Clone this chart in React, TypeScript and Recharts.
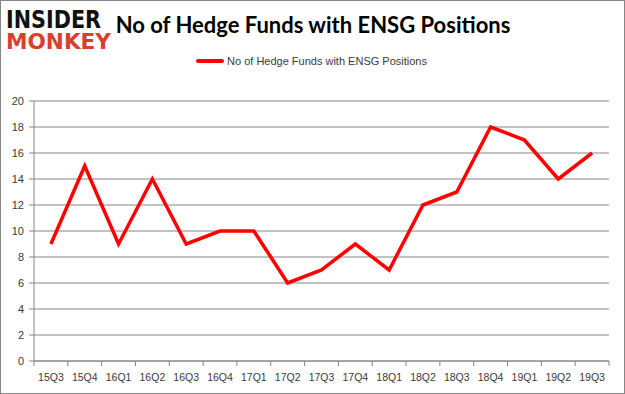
import { LineChart, Line, XAxis, YAxis, CartesianGrid, Legend } from "recharts";

const quarters = [
  "15Q3", "15Q4", "16Q1", "16Q2", "16Q3", "16Q4", "17Q1", "17Q2", "17Q3",
  "17Q4", "18Q1", "18Q2", "18Q3", "18Q4", "19Q1", "19Q2", "19Q3",
];
const hedgeFunds = [9, 15, 9, 14, 9, 10, 10, 6, 7, 9, 7, 12, 13, 18, 17, 14, 16];
const yTicks = [0, 2, 4, 6, 8, 10, 12, 14, 16, 18, 20];
const seriesName = "No of Hedge Funds with ENSG Positions";

const data = quarters.map((q, i) => ({ quarter: q, funds: hedgeFunds[i] }));

const W = 625;
const H = 394;
const PLOT_LEFT = 35;
const PLOT_RIGHT = 610;
const PLOT_TOP = 89;
const PLOT_BOTTOM = 361;
const AXIS_GREY = "#868686";
const LABEL = "#3a3a3a";
const FONT = "'Liberation Sans', Arial, sans-serif";

// excel puts the category ticks between the labels, not under them
const band = (PLOT_RIGHT - PLOT_LEFT) / quarters.length;

function QuarterTick(props: any) {
  const { x, payload, index } = props;
  const half = band / 2;
  return (
    <g>
      <line x1={x - half} x2={x - half} y1={PLOT_BOTTOM} y2={PLOT_BOTTOM + 5} stroke={AXIS_GREY} />
      {index === quarters.length - 1 && (
        <line x1={x + half} x2={x + half} y1={PLOT_BOTTOM} y2={PLOT_BOTTOM + 5} stroke={AXIS_GREY} />
      )}
      <text x={x} y={PLOT_BOTTOM + 20} textAnchor="middle" fill={LABEL} fontSize={10.5} fontFamily={FONT}>
        {payload.value}
      </text>
    </g>
  );
}

function LegendLine() {
  return (
    <div style={{ display: "flex", justifyContent: "center", alignItems: "center", fontFamily: FONT, fontSize: 11, color: LABEL }}>
      <span style={{ display: "inline-block", width: 28, height: 4, borderRadius: 2, background: "#ff0000", marginRight: 3 }} />
      {seriesName}
    </div>
  );
}

export default function App() {
  return (
    <div
      style={{
        position: "absolute",
        left: 0,
        top: 0,
        width: W,
        height: H,
        boxSizing: "border-box",
        border: `1px solid ${AXIS_GREY}`,
        background: "#fff",
        overflow: "hidden",
      }}
    >
      <svg width={120} height={60} style={{ position: "absolute", left: 4, top: 0 }}>
        <text x={1} y={27} textLength={95} lengthAdjust="spacingAndGlyphs" fontFamily="'DejaVu Sans', sans-serif" fontWeight={900} fontSize={25} fill="#111">
          INSIDER
        </text>
        <text x={1} y={48} textLength={105} lengthAdjust="spacingAndGlyphs" fontFamily="'DejaVu Sans', sans-serif" fontWeight={900} fontSize={21} fill="#d8402c">
          MONKEY
        </text>
      </svg>
      <div
        style={{
          position: "absolute",
          left: 112,
          top: 10,
          width: 400,
          textAlign: "center",
          fontFamily: "Lato, 'Open Sans', sans-serif",
          fontWeight: 700,
          fontSize: 22,
          color: "#000",
        }}
      >
        No of Hedge Funds with ENSG Positions
      </div>
      <div style={{ position: "absolute", left: -2, top: -1 }}>
        <LineChart
          width={W}
          height={H}
          data={data}
          margin={{ top: PLOT_TOP, right: W - PLOT_RIGHT, bottom: 3, left: 0 }}
        >
          <CartesianGrid vertical={false} stroke={AXIS_GREY} />
          <XAxis
            dataKey="quarter"
            scale="band"
            height={H - PLOT_BOTTOM - 3}
            stroke={AXIS_GREY}
            tickLine={false}
            interval={0}
            tick={<QuarterTick />}
          />
          <YAxis
            domain={[0, 20]}
            ticks={yTicks}
            width={PLOT_LEFT}
            stroke={AXIS_GREY}
            tickSize={5}
            tickMargin={5}
            interval={0}
            tick={{ fill: LABEL, fontSize: 11, fontFamily: FONT }}
          />
          <Legend
            verticalAlign="top"
            content={<LegendLine />}
            wrapperStyle={{ top: 55, left: 0, width: W }}
          />
          <Line
            type="linear"
            dataKey="funds"
            name={seriesName}
            stroke="#ff0000"
            strokeWidth={3.5}
            dot={false}
            activeDot={false}
            isAnimationActive={false}
          />
        </LineChart>
      </div>
    </div>
  );
}
